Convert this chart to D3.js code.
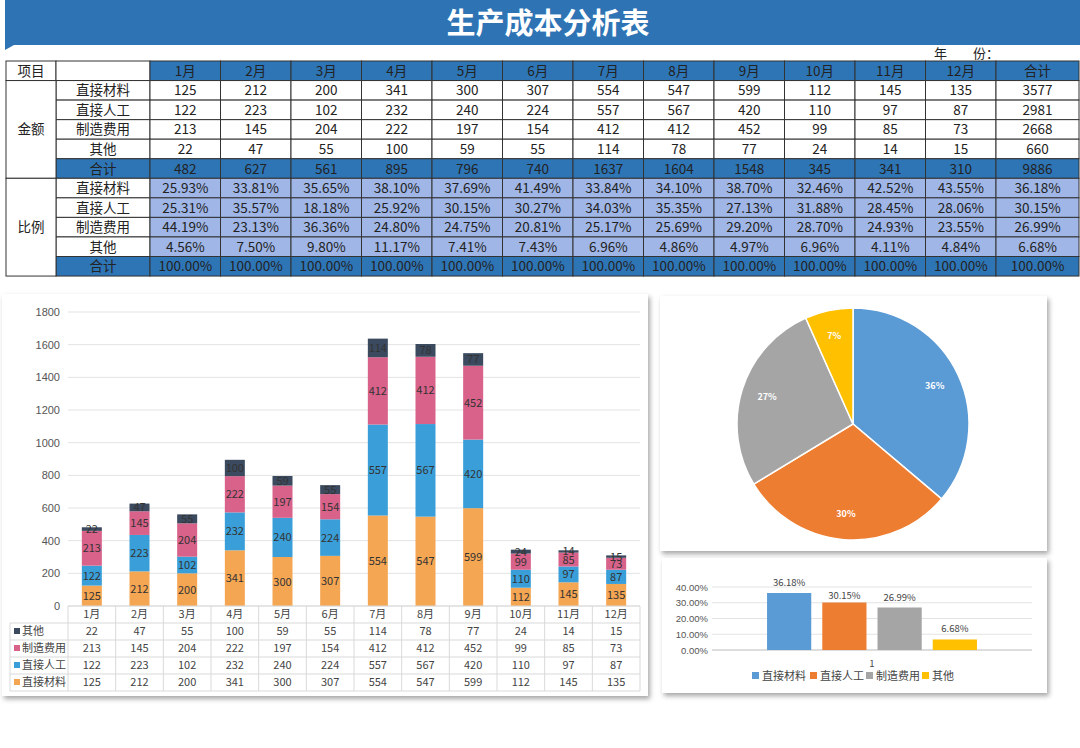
<!DOCTYPE html>
<html><head><meta charset="utf-8">
<script src="https://cdn.jsdelivr.net/npm/d3@7"></script>
<style>body{margin:0;background:#fff;font-family:"Noto Sans CJK SC","Noto Sans",sans-serif}</style>
</head><body><svg id="c" width="1080" height="748"></svg>
<script>
var months = ["1月","2月","3月","4月","5月","6月","7月","8月","9月","10月","11月","12月"];
var items = ["直接材料","直接人工","制造费用","其他"];
var material = [125,212,200,341,300,307,554,547,599,112,145,135];
var labor = [122,223,102,232,240,224,557,567,420,110,97,87];
var overhead = [213,145,204,222,197,154,412,412,452,99,85,73];
var other = [22,47,55,100,59,55,114,78,77,24,14,15];
var itemTotals = [3577,2981,2668,660];
var ratioAvg = [36.18,30.15,26.99,6.68];
var colorsStack = ["#f5a653","#3a9fd8","#d8628a","#3b4a5e"];
var colorsPie = ["#5b9bd5","#ed7d31","#a5a5a5","#ffc000"];
var series = [material, labor, overhead, other];
var monthTotals = months.map(function(m,i){ return d3.sum(series, function(s){ return s[i]; }); });

var svg = d3.select("#c");
var defs = svg.append("defs");
var f = defs.append("filter").attr("id","sh").attr("x","-5%").attr("y","-5%").attr("width","110%").attr("height","115%");
f.append("feDropShadow").attr("dx",2).attr("dy",3).attr("stdDeviation",2.5).attr("flood-color","#000").attr("flood-opacity",0.35);

// header band
svg.append("rect").attr("x",5).attr("y",0).attr("width",1075).attr("height",45).attr("fill","#2e74b5");
svg.append("path").attr("d","M5,45 L5,50 L14,45 Z").attr("fill","#2e74b5");
svg.append("text").attr("x",548).attr("y",34).attr("text-anchor","middle").attr("fill","#fff")
  .attr("font-size",29).attr("font-weight","bold").text("生产成本分析表");
svg.append("text").attr("x",934).attr("y",58).attr("font-size",13).attr("fill","#222").text("年　　份：");

// table
var top0 = 61, rh = 19.55;
var colX = [6,56,150].concat(d3.range(1,13).map(function(i){ return 150 + i*70.5; })).concat([1079]);
var t = svg.append("g").attr("font-size",13.5).attr("fill","#222");
function cell(c, r, text, fill, span){
  var x0 = colX[c], x1 = colX[c+(span||1)], y = top0 + r*rh;
  t.append("rect").attr("x",x0).attr("y",y).attr("width",x1-x0).attr("height",rh)
    .attr("fill",fill||"#fff").attr("stroke","#333").attr("stroke-width",1);
  if(text!==null) t.append("text").attr("x",(x0+x1)/2).attr("y",y+rh/2+5).attr("text-anchor","middle").text(text);
}
var headBlue = "#2e75b6", ratioBlue = "#9fb6e6";
cell(0,0,"项目"); cell(1,0,"");
months.concat(["合计"]).forEach(function(m,i){ cell(i+2,0,m,headBlue); });
items.forEach(function(it,r){
  cell(1,r+1,it);
  series[r].forEach(function(v,i){ cell(i+2,r+1,v); });
  cell(14,r+1,itemTotals[r]);
});
cell(1,5,"合计",headBlue);
monthTotals.forEach(function(v,i){ cell(i+2,5,v,headBlue); });
cell(14,5,d3.sum(itemTotals),headBlue);
items.forEach(function(it,r){
  cell(1,r+6,it);
  series[r].forEach(function(v,i){ cell(i+2,r+6,(v/monthTotals[i]*100).toFixed(2)+"%",ratioBlue); });
  cell(14,r+6,ratioAvg[r].toFixed(2)+"%",ratioBlue);
});
cell(1,10,"合计",headBlue);
for(var i=0;i<13;i++) cell(i+2,10,"100.00%",headBlue);
// merged left labels
[["金额",1],["比例",6]].forEach(function(d){
  var y = top0 + d[1]*rh;
  t.append("rect").attr("x",6).attr("y",y).attr("width",50).attr("height",rh*5).attr("fill","#fff").attr("stroke","#333");
  t.append("text").attr("x",31).attr("y",y+rh*2.5+5).attr("text-anchor","middle").text(d[0]);
});

// stacked chart panel
svg.append("rect").attr("x",2).attr("y",294).attr("width",646).attr("height",402).attr("fill","#fff").attr("filter","url(#sh)");
var x = d3.scaleBand().domain(months).range([68,640]);
var y = d3.scaleLinear().domain([0,1800]).range([606,312]);
var g = svg.append("g");
g.selectAll(".gl").data(y.ticks(9)).join("line").attr("x1",68).attr("x2",640)
  .attr("y1",function(d){return y(d);}).attr("y2",function(d){return y(d);}).attr("stroke","#e3e3e3");
var ya = g.append("g").attr("transform","translate(68,0)").call(d3.axisLeft(y).ticks(9).tickSize(0).tickPadding(8).tickFormat(d3.format("d")));
ya.select(".domain").remove();
ya.selectAll("text").attr("font-size",11).attr("fill","#555");
var stackData = months.map(function(m,i){ var o={m:m}; items.forEach(function(it,k){ o[it]=series[k][i]; }); return o; });
var stacked = d3.stack().keys(items)(stackData);
var bw = 20;
stacked.forEach(function(layer,k){
  var lg = g.append("g");
  lg.selectAll("rect").data(layer).join("rect")
    .attr("x",function(d){ return x(d.data.m)+x.bandwidth()/2-bw/2; }).attr("width",bw)
    .attr("y",function(d){ return y(d[1]); }).attr("height",function(d){ return y(d[0])-y(d[1]); })
    .attr("fill",colorsStack[k]);
  lg.selectAll("text").data(layer).join("text")
    .attr("x",function(d){ return x(d.data.m)+x.bandwidth()/2; })
    .attr("y",function(d){ return (y(d[0])+y(d[1]))/2+4; })
    .attr("text-anchor","middle").attr("font-size",11).attr("fill","#333")
    .text(function(d){ return d.data[items[k]]; });
});
// data table under chart
var tg = svg.append("g").attr("font-size",11).attr("fill","#444");
var ty0 = 606, trh = 17;
var rowsOrder = [3,2,1,0];
for(var r=0;r<=5;r++){
  var yy = ty0 + r*trh;
  tg.append("line").attr("x1",r==0?68:10).attr("x2",640).attr("y1",yy).attr("y2",yy).attr("stroke","#d9d9d9");
}
months.forEach(function(m,i){
  tg.append("line").attr("x1",x(m)).attr("x2",x(m)).attr("y1",ty0).attr("y2",ty0+5*trh).attr("stroke","#d9d9d9");
  tg.append("text").attr("x",x(m)+x.bandwidth()/2).attr("y",ty0+12).attr("text-anchor","middle").text(m);
});
tg.append("line").attr("x1",640).attr("x2",640).attr("y1",ty0).attr("y2",ty0+5*trh).attr("stroke","#d9d9d9");
tg.append("line").attr("x1",10).attr("x2",10).attr("y1",ty0+trh).attr("y2",ty0+5*trh).attr("stroke","#d9d9d9");
rowsOrder.forEach(function(k,r){
  var yy = ty0 + (r+1)*trh;
  tg.append("rect").attr("x",14).attr("y",yy+5).attr("width",6).attr("height",6).attr("fill",colorsStack[k]);
  tg.append("text").attr("x",22).attr("y",yy+12).text(items[k]);
  series[k].forEach(function(v,i){
    tg.append("text").attr("x",x(months[i])+x.bandwidth()/2).attr("y",yy+12).attr("text-anchor","middle").text(v);
  });
});

// pie panel
svg.append("rect").attr("x",660).attr("y",296).attr("width",387).attr("height",255).attr("fill","#fff").attr("filter","url(#sh)");
var pie = d3.pie().sort(null)(ratioAvg);
var arc = d3.arc().innerRadius(0).outerRadius(116);
var lab = d3.arc().innerRadius(90).outerRadius(90);
var pg = svg.append("g").attr("transform","translate(853,424)");
pg.selectAll("path").data(pie).join("path").attr("d",arc)
  .attr("fill",function(d,i){ return colorsPie[i]; }).attr("stroke","#fff").attr("stroke-width",1.5);
pg.selectAll("text").data(pie).join("text")
  .attr("transform",function(d){ return "translate("+lab.centroid(d)+")"; })
  .attr("text-anchor","middle").attr("dy","0.35em").attr("font-size",9).attr("font-weight","bold").attr("fill","#fff")
  .text(function(d){ return Math.round(d.data)+"%"; });

// small bar chart
svg.append("rect").attr("x",662).attr("y",558).attr("width",385).attr("height",135).attr("fill","#fff").attr("filter","url(#sh)");
var by = d3.scaleLinear().domain([0,40]).range([650,587]);
var bg = svg.append("g");
bg.selectAll("line").data(by.ticks(4)).join("line").attr("x1",712).attr("x2",1032)
  .attr("y1",function(d){return by(d);}).attr("y2",function(d){return by(d);})
  .attr("stroke",function(d){ return d===0?"#bbb":"#e3e3e3"; });
var bya = bg.append("g").attr("transform","translate(712,0)")
  .call(d3.axisLeft(by).ticks(4).tickSize(0).tickPadding(4).tickFormat(function(d){ return d.toFixed(2)+"%"; }));
bya.select(".domain").remove();
bya.selectAll("text").attr("font-size",9.5).attr("fill","#555");
var bb = d3.scaleBand().domain(items).range([756,988]).padding(0.2);
bg.selectAll("rect").data(ratioAvg).join("rect")
  .attr("x",function(d,i){ return bb(items[i]); }).attr("width",bb.bandwidth())
  .attr("y",function(d){ return by(d); }).attr("height",function(d){ return 650-by(d); })
  .attr("fill",function(d,i){ return colorsPie[i]; });
bg.selectAll(".bl").data(ratioAvg).join("text")
  .attr("x",function(d,i){ return bb(items[i])+bb.bandwidth()/2; })
  .attr("y",function(d,i){ return by(d)-[7,4,6,7][i]; })
  .attr("text-anchor","middle").attr("font-size",9.5).attr("fill","#444").text(function(d){ return d.toFixed(2)+"%"; });
bg.append("text").attr("x",872).attr("y",667).attr("text-anchor","middle").attr("font-size",9.5).attr("fill","#444").text("1");
var lx = [752,810,866,922];
items.forEach(function(it,i){
  bg.append("rect").attr("x",lx[i]).attr("y",672).attr("width",7).attr("height",7).attr("fill",colorsPie[i]);
  bg.append("text").attr("x",lx[i]+10).attr("y",680).attr("font-size",11).attr("fill","#444").text(it);
});
</script></body></html>
